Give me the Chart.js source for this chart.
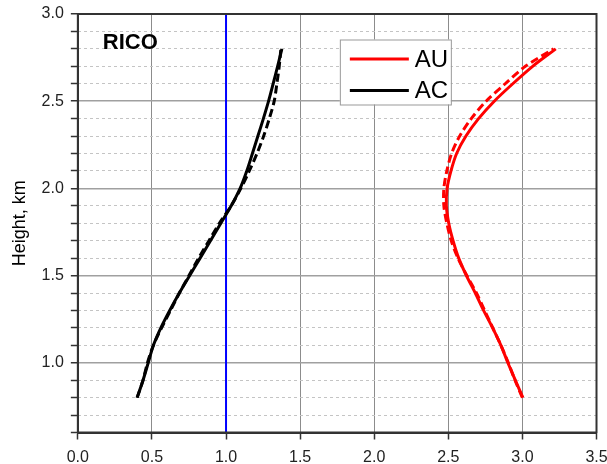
<!DOCTYPE html>
<html>
<head>
<meta charset="utf-8">
<script src="https://cdn.jsdelivr.net/npm/chart.js@4/dist/chart.umd.min.js"></script>
<style>
  html, body { margin: 0; padding: 0; background: #fff; }
  #wrap { width: 607px; height: 464px; }
</style>
</head>
<body>
<div id="wrap"><canvas id="c" width="607" height="464"></canvas></div>
<script>
// Heights (km) at which the profiles are sampled
const heights = [0.8, 0.9, 1.0, 1.1, 1.2, 1.3, 1.4, 1.5, 1.6, 1.7, 1.8, 1.9, 2.0, 2.1, 2.2, 2.3, 2.4, 2.5, 2.6, 2.7, 2.8];

// AU (red) solid and dashed
const auSolid  = [3.003, 2.952, 2.902, 2.855, 2.799, 2.738, 2.682, 2.622, 2.570, 2.532, 2.503, 2.487, 2.492, 2.518, 2.556, 2.619, 2.704, 2.810, 2.935, 3.069, 3.225];
const auDashed = [3.000, 2.950, 2.905, 2.855, 2.800, 2.745, 2.690, 2.625, 2.565, 2.520, 2.490, 2.470, 2.470, 2.490, 2.522, 2.577, 2.655, 2.755, 2.884, 3.020, 3.210];

// AC (black) solid and dashed
const acSolid  = [0.400, 0.440, 0.475, 0.510, 0.560, 0.620, 0.685, 0.755, 0.825, 0.895, 0.965, 1.035, 1.095, 1.140, 1.178, 1.215, 1.252, 1.287, 1.318, 1.348, 1.377];
const acDashed = [0.400, 0.440, 0.470, 0.510, 0.565, 0.625, 0.685, 0.750, 0.815, 0.885, 0.955, 1.035, 1.100, 1.157, 1.209, 1.254, 1.292, 1.325, 1.343, 1.359, 1.370];

// Vertical reference line at 1.0
const refX = [1.0, 1.0];
const refY = [0.6, 3.0];

// Axis ranges / ticks
const xMin = 0, xMax = 3.5, xStep = 0.5;
const yMin = 0.6, yMax = 3.0, yMinorStep = 0.1;

const seriesLabels = ['AU', 'AC'];
const panelLabel = 'RICO';
const yTitle = 'Height, km';

const toPts = (xs, ys) => xs.map((x, i) => ({ x: x, y: ys[i] }));
const isMajorY = v => Math.abs(v * 2 - Math.round(v * 2)) < 1e-6;

const FONT = "'Liberation Sans', Arial, sans-serif";

const framePlugin = {
  id: 'frame',
  afterDraw(chart) {
    const { ctx, chartArea: a } = chart;
    ctx.save();
    ctx.strokeStyle = '#333';
    ctx.lineWidth = 2;
    ctx.strokeRect(a.left, a.top, a.right - a.left, a.bottom - a.top);
    // panel label
    ctx.fillStyle = '#000';
    ctx.font = 'bold 22px ' + FONT;
    ctx.textBaseline = 'alphabetic';
    ctx.textAlign = 'left';
    ctx.fillText(panelLabel, a.left + 25, a.top + 35);
    // legend
    const bx = a.left + 262, by = a.top + 25.5, bw = 111, bh = 65;
    ctx.fillStyle = '#fff';
    ctx.fillRect(bx, by, bw, bh);
    ctx.strokeStyle = '#999';
    ctx.lineWidth = 1;
    ctx.strokeRect(bx + 0.5, by + 0.5, bw, bh);
    const items = [
      { label: seriesLabels[0], color: '#ff0000', y: by + 19.5 },
      { label: seriesLabels[1], color: '#000000', y: by + 51 }
    ];
    ctx.font = '24px ' + FONT;
    ctx.textBaseline = 'middle';
    items.forEach(it => {
      ctx.strokeStyle = it.color;
      ctx.lineWidth = 3;
      ctx.beginPath();
      ctx.moveTo(bx + 10, it.y);
      ctx.lineTo(bx + 69, it.y);
      ctx.stroke();
      ctx.fillStyle = '#000';
      ctx.fillText(it.label, bx + 75, it.y + 1);
    });
    ctx.restore();
  }
};

new Chart(document.getElementById('c'), {
  type: 'scatter',
  data: {
    datasets: [
      { label: 'AU', data: toPts(auSolid, heights), showLine: true, borderColor: '#ff0000', borderWidth: 3, pointRadius: 0, tension: 0.3, fill: false },
      { label: 'AU dashed', data: toPts(auDashed, heights), showLine: true, borderColor: '#ff0000', borderWidth: 3, borderDash: [8, 4], pointRadius: 0, tension: 0.3, fill: false },
      { label: 'AC', data: toPts(acSolid, heights), showLine: true, borderColor: '#000000', borderWidth: 3, pointRadius: 0, tension: 0.3, fill: false },
      { label: 'AC dashed', data: toPts(acDashed, heights), showLine: true, borderColor: '#000000', borderWidth: 3, borderDash: [8, 4], pointRadius: 0, tension: 0.3, fill: false },
      { label: 'ref', data: toPts(refX, refY), showLine: true, borderColor: '#0000ff', borderWidth: 2, pointRadius: 0, fill: false }
    ]
  },
  options: {
    responsive: false,
    animation: false,
    devicePixelRatio: 1,
    layout: { padding: { left: 5, right: 10.5, top: 14, bottom: 0 } },
    plugins: { legend: { display: false }, tooltip: { enabled: false } },
    scales: {
      x: {
        type: 'linear', position: 'bottom',
        min: xMin, max: xMax,
        afterFit: s => { s.paddingLeft = 0; s.paddingRight = 0; s.height = 31.5; },
        ticks: { stepSize: xStep, padding: 8, color: '#222', font: { family: FONT, size: 16 }, callback: v => v.toFixed(1) },
        grid: { color: '#8c8c8c', lineWidth: 1, tickColor: '#333', tickLength: 7, tickWidth: 1.5 },
        border: { color: '#333', width: 2 }
      },
      y: {
        type: 'linear', position: 'left',
        min: yMin, max: yMax,
        afterFit: s => { s.paddingTop = 0; s.paddingBottom = 0; },
        ticks: { stepSize: yMinorStep, autoSkip: false, padding: 7, color: '#222', font: { family: FONT, size: 16 },
                 callback: v => isMajorY(v) ? v.toFixed(1) : '' },
        grid: { color: c => isMajorY(c.tick.value) ? '#a0a0a0' : 'rgba(0,0,0,0)', lineWidth: c => isMajorY(c.tick.value) ? 1.5 : 1,
                tickColor: '#333', tickLength: 7, tickWidth: 1.5 },
        border: { color: '#333', width: 2 },
        title: { display: true, text: yTitle, color: '#000', font: { family: FONT, size: 18 }, padding: { top: 4, bottom: 4 } }
      },
      y2: {
        type: 'linear', position: 'left',
        min: yMin, max: yMax,
        afterFit: s => { s.paddingTop = 0; s.paddingBottom = 0; },
        ticks: { display: false, stepSize: yMinorStep, autoSkip: false },
        grid: { drawTicks: false, color: c => isMajorY(c.tick.value) ? 'rgba(0,0,0,0)' : '#c4c4c4', lineWidth: 1 },
        border: { display: false, dash: [3, 3] }
      }
    }
  },
  plugins: [framePlugin]
});
</script>
</body>
</html>
